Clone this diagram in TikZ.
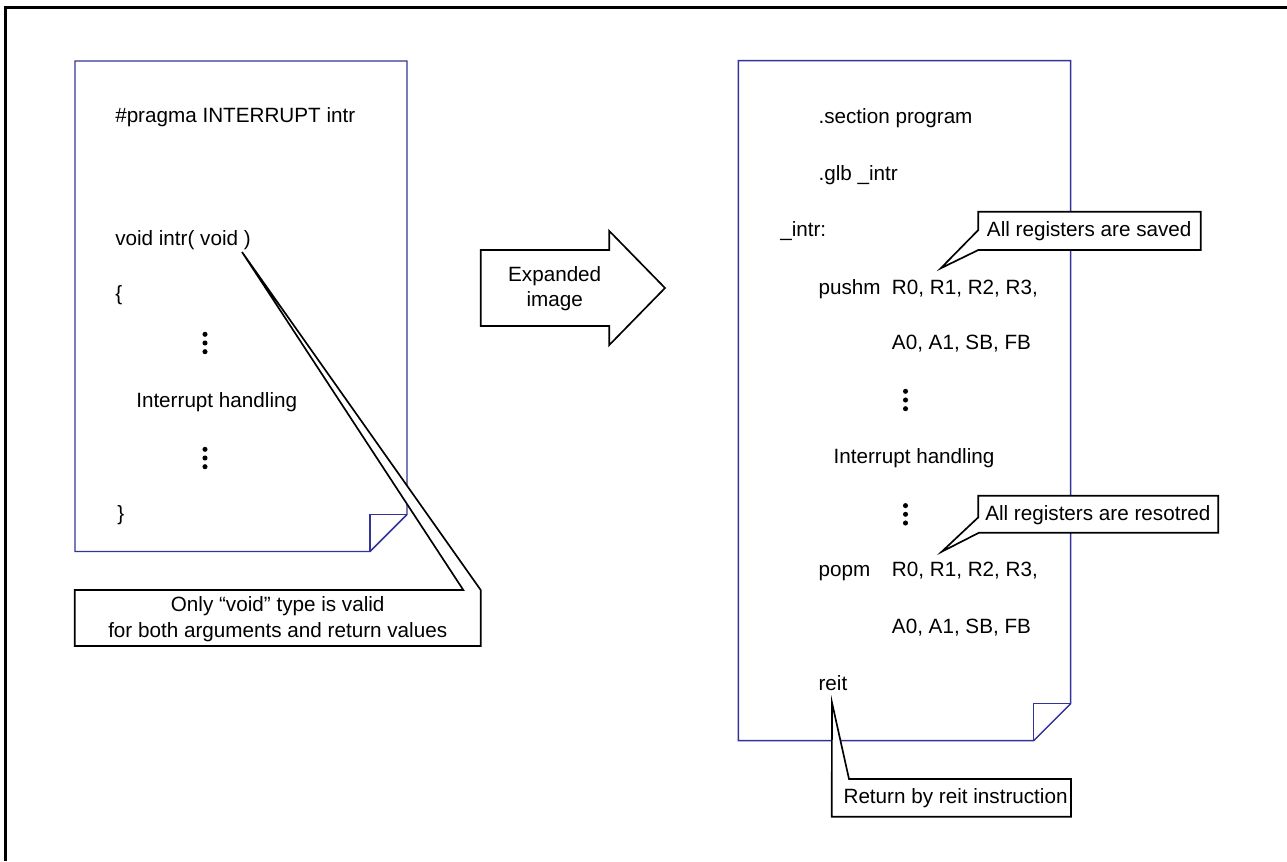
\documentclass[tikz,border=0pt]{standalone}
\usepackage{fontspec}
\setmainfont{Liberation Sans}
\definecolor{pageblue}{RGB}{51,51,153}
\begin{document}
\begin{tikzpicture}[x=0.75pt,y=-0.75pt,
  every node/.style={inner sep=0pt, font=\fontsize{15.5}{18}\selectfont},
  txt/.style={anchor=base west},
  ctxt/.style={anchor=base},
  pageline/.style={draw=pageblue, line width=1.1pt, line join=miter},
  callline/.style={draw=black, fill=white, line width=1.25pt, line join=miter},
  arrowshape/.style={draw=black, fill=white, line width=1.25pt, line join=miter},
  frameline/.style={line width=2.4pt},
  dotmark/.style={circle, fill=black, minimum size=3.8pt}
]
\useasboundingbox (0,0) rectangle (1287,861);

% outer frame (top and left only)
\draw[frameline] (5.5,861) -- (5.5,7.5) -- (1287,7.5);

% ---------- left page ----------
\draw[pageline, fill=white] (75,61) -- (407,61) -- (407,514.5) -- (370,551.5) -- (75,551.5) -- cycle;
\draw[pageline] (407,514.5) -- (370,514.5) -- (370,551.5);

\node[txt] (lpragma) at (115,122) {\#pragma INTERRUPT intr};
\node[txt] (lvoid)   at (115,245) {void intr( void )};
\node[txt] (lopen)   at (115,300) {\{};
\node[dotmark] (ld1a) at (205,334.3) {};
\node[dotmark] (ld1b) at (205,343) {};
\node[dotmark] (ld1c) at (205,351.7) {};
\node[txt] (lhandle) at (136,407) {Interrupt handling};
\node[dotmark] (ld2a) at (205,449.3) {};
\node[dotmark] (ld2b) at (205,458) {};
\node[dotmark] (ld2c) at (205,466.7) {};
\node[txt] (lclose)  at (117,520) {\}};

% ---------- expand arrow ----------
\draw[arrowshape] (480.7,250) -- (609.3,250) -- (609.3,231) -- (665,288)
  -- (609.3,345) -- (609.3,326) -- (480.7,326) -- cycle;
\node[ctxt] (aexp) at (554.7,281.7) {Expanded};
\node[ctxt] (aimg) at (554.7,306) {image};

% ---------- right page ----------
\draw[pageline, fill=white] (738.3,60.7) -- (1070.7,60.7) -- (1070.7,703.7) -- (1033.7,740.7) -- (738.3,740.7) -- cycle;
\draw[pageline] (1070.7,703.7) -- (1033.7,703.7) -- (1033.7,740.7);

\node[txt] (rsect)  at (818.3,123.3) {.section program};
\node[txt] (rglb)   at (818.3,180) {.glb \_intr};
\node[txt] (rlabel) at (780,236.7) {\_intr:};
\node[txt] (rpush)  at (818.3,294) {pushm};
\node[txt] (rpushA) at (891.7,294) {R0, R1, R2, R3,};
\node[txt] (rpushB) at (891.7,349.3) {A0, A1, SB, FB};
\node[dotmark] (rd1a) at (905.5,391.3) {};
\node[dotmark] (rd1b) at (905.5,400) {};
\node[dotmark] (rd1c) at (905.5,408.7) {};
\node[txt] (rhandle) at (833.3,463.3) {Interrupt handling};
\node[dotmark] (rd2a) at (905.5,505.6) {};
\node[dotmark] (rd2b) at (905.5,514.3) {};
\node[dotmark] (rd2c) at (905.5,523) {};
\node[txt] (rpop)   at (818.3,576.7) {popm};
\node[txt] (rpopA)  at (891.7,576.7) {R0, R1, R2, R3,};
\node[txt] (rpopB)  at (891.7,633.3) {A0, A1, SB, FB};
\node[txt] (rreit)  at (818.3,690) {reit};

% ---------- callouts ----------
% left: void type
\coordinate (tipvoid) at (242,252);
\draw[callline] (74.7,590) -- (463.3,590) -- (tipvoid) -- (480.7,590)
  -- (480.7,646) -- (74.7,646) -- cycle;
\node[ctxt] (cvoid1) at (277.7,611.7) {Only “void” type is valid};
\node[ctxt] (cvoid2) at (277.7,637) {for both arguments and return values};

% saved
\coordinate (tipsave) at (940.7,268.3);
\draw[callline] (978.3,211.7) -- (1200.7,211.7) -- (1200.7,250) -- (978.3,250)
  -- (tipsave) -- (978.3,230) -- cycle;
\node[txt] (csave) at (986.7,236.7) {All registers are saved};

% restored
\coordinate (tiprest) at (941.7,551.7);
\draw[callline] (978.3,495.7) -- (1218.3,495.7) -- (1218.3,532.7) -- (979,532.7)
  -- (tiprest) -- (978.3,517.3) -- cycle;
\node[txt] (crest) at (985,520.7) {All registers are resotred};

% reit
\coordinate (tipreit) at (832,702.7);
\draw[callline] (tipreit) -- (849,779) -- (1071,779) -- (1071,816.7)
  -- (831.7,816.7) -- cycle;
\node[txt] (creit) at (843.3,803.3) {Return by reit instruction};

\end{tikzpicture}
\end{document}
